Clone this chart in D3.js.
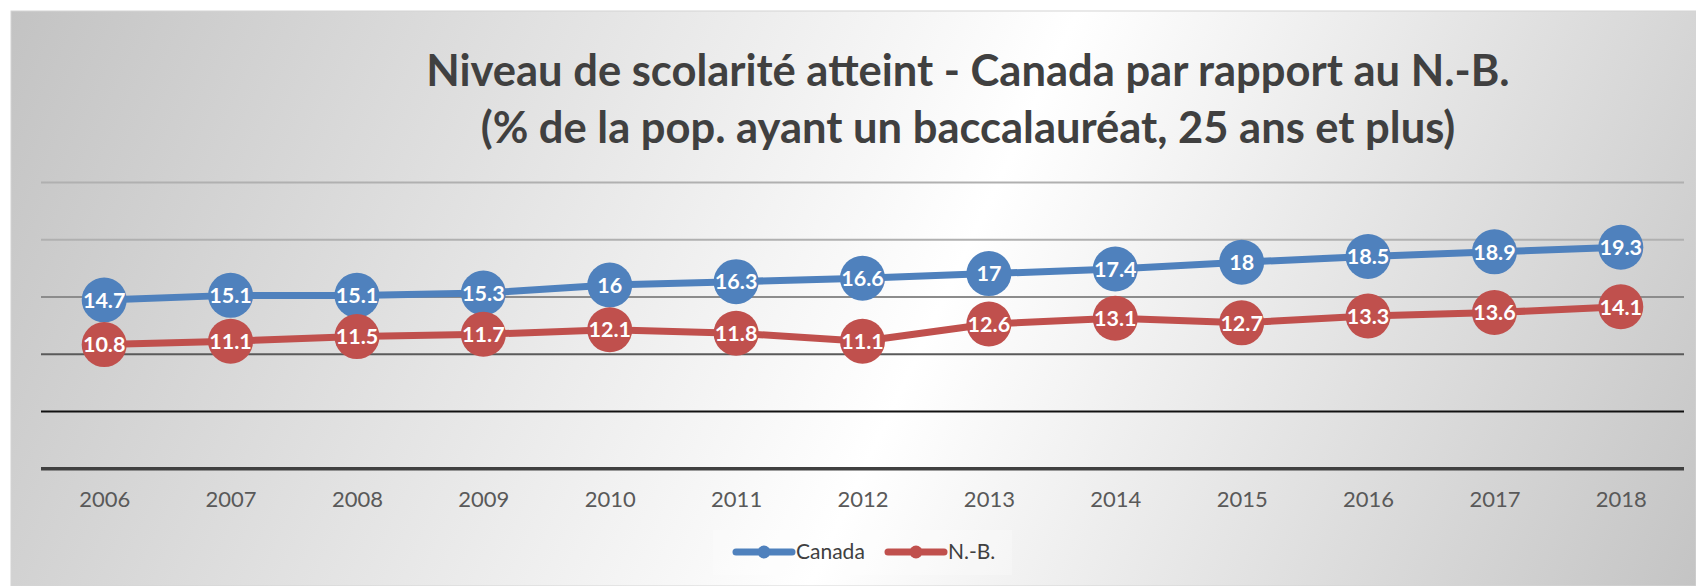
<!DOCTYPE html>
<html>
<head>
<meta charset="utf-8">
<script src="https://cdn.jsdelivr.net/npm/d3@7"></script>
<style>
  body { margin: 0; background: #fff; }
  svg { display: block; font-family: Lato, "Open Sans", sans-serif; }
</style>
</head>
<body>
<svg></svg>
<script>
const years = ['2006', '2007', '2008', '2009', '2010', '2011', '2012', '2013', '2014', '2015', '2016', '2017', '2018'];
const canada = [14.7, 15.1, 15.1, 15.3, 16, 16.3, 16.6, 17, 17.4, 18, 18.5, 18.9, 19.3];
const nb = [10.8, 11.1, 11.5, 11.7, 12.1, 11.8, 11.1, 12.6, 13.1, 12.7, 13.3, 13.6, 14.1];
const gridValues = [0, 5, 10, 15, 20, 25];
const seriesNames = ['Canada', 'N.-B.'];
const titleLines = [
    'Niveau de scolarité atteint - Canada par rapport au N.-B.',
    '(% de la pop. ayant un baccalauréat, 25 ans et plus)'
];

const width = 1696, height = 586;
const colors = ['#4f81bd', '#c0504d'];

const svg = d3.select('svg')
    .attr('width', width)
    .attr('height', height);

// background gradient, gray - white - gray on a diagonal
const grad = svg.append('defs').append('linearGradient')
    .attr('id', 'bg')
    .attr('gradientUnits', 'userSpaceOnUse')
    .attr('x1', 0).attr('y1', 0)
    .attr('x2', 1617).attr('y2', 755);
grad.append('stop').attr('offset', 0).attr('stop-color', '#c2c2c2');
grad.append('stop').attr('offset', 0.55).attr('stop-color', '#ffffff');
grad.append('stop').attr('offset', 1).attr('stop-color', '#c4c4c4');

svg.append('rect')
    .attr('x', 11).attr('y', 11)
    .attr('width', width - 11).attr('height', height - 11)
    .attr('fill', 'url(#bg)')
    .attr('stroke', '#d4d4d4');

const x = d3.scalePoint()
    .domain(years)
    .range([41, 1684])
    .padding(0.5);

const y = d3.scaleLinear()
    .domain([0, 25])
    .range([468.3, 182]);

// title
svg.append('g')
    .selectAll('text')
    .data(titleLines)
    .join('text')
    .attr('x', 968)
    .attr('y', (d, i) => 86 + i * 57)
    .attr('text-anchor', 'middle')
    .attr('font-size', 43.5)
    .attr('font-weight', 'bold')
    .attr('fill', '#404040')
    .text(d => d);

// gridlines
const gridColor = v => v === 0 ? '#404040' : v === 5 ? '#111' : v === 10 ? '#5a5a5a' : v === 15 ? '#8c8c8c' : '#b0b0b0';
const gridWidth = v => v === 0 ? 3.5 : 2;

const grid = svg.append('g')
    .attr('transform', 'translate(41,0)')
    .call(d3.axisLeft(y).tickValues(gridValues).tickSize(-1643).tickFormat(''));
grid.select('.domain').remove();
grid.selectAll('.tick line')
    .attr('stroke', d => gridColor(d))
    .attr('stroke-width', d => gridWidth(d));

// x axis labels
const xAxis = svg.append('g')
    .attr('transform', `translate(0,${y(0)})`)
    .call(d3.axisBottom(x).tickSize(0));
xAxis.select('.domain').remove();
xAxis.selectAll('text')
    .attr('dy', null)
    .attr('y', 39)
    .attr('font-family', 'Lato, sans-serif')
    .attr('font-size', 22)
    .attr('fill', '#595959');

const line = d3.line()
    .x((d, i) => x(years[i]))
    .y(d => y(d));

[canada, nb].forEach((values, s) => {
    const g = svg.append('g');
    g.append('path')
        .attr('d', line(values))
        .attr('fill', 'none')
        .attr('stroke', colors[s])
        .attr('stroke-width', 7)
        .attr('stroke-linejoin', 'round');
    const pts = g.selectAll('g.pt')
        .data(values)
        .join('g')
        .attr('class', 'pt')
        .attr('transform', (d, i) => `translate(${x(years[i])},${y(d)})`);
    pts.append('circle')
        .attr('r', 22.5)
        .attr('fill', colors[s]);
    pts.append('text')
        .attr('text-anchor', 'middle')
        .attr('dy', '0.36em')
        .attr('font-size', 21.5)
        .attr('font-weight', 'bold')
        .attr('fill', '#fff')
        .text(d => d);
});

// legend
const legend = svg.append('g');
legend.append('rect')
    .attr('x', 713).attr('y', 530)
    .attr('width', 299).attr('height', 45)
    .attr('fill', '#ffffff')
    .attr('fill-opacity', 0.25);

const legendX = [736, 888];
seriesNames.forEach((name, s) => {
    const lg = legend.append('g').attr('transform', `translate(${legendX[s]},552)`);
    lg.append('line')
        .attr('x1', 0).attr('x2', 56)
        .attr('stroke', colors[s])
        .attr('stroke-width', 7)
        .attr('stroke-linecap', 'round');
    lg.append('circle')
        .attr('cx', 28)
        .attr('r', 6.5)
        .attr('fill', colors[s]);
    lg.append('text')
        .attr('x', 60)
        .attr('y', 7)
        .attr('font-size', 21)
        .attr('fill', '#404040')
        .text(name);
});
</script>
</body>
</html>
